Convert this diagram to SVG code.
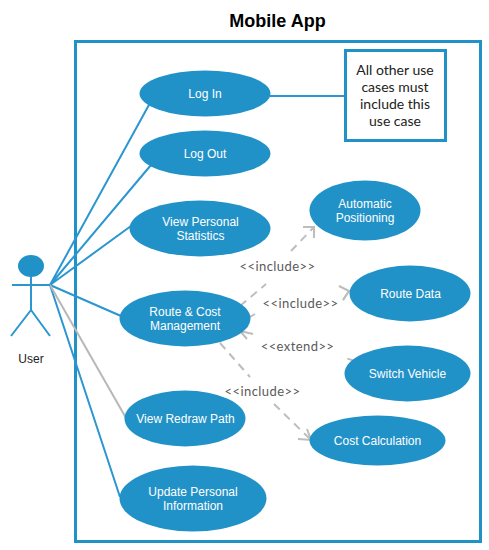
<svg xmlns="http://www.w3.org/2000/svg" width="489" height="550" viewBox="0 0 489 550">
<style>
text{font-family:"Liberation Sans",Arial,sans-serif;text-anchor:middle}
.u ellipse{fill:#2192c8}
.u text{font-size:12px;fill:#fff}
.a{fill:none;stroke:#2b96d1;stroke-width:2}
.g{fill:none;stroke:#b8b8b8;stroke-width:2}
.d{fill:none;stroke:#bdbdbd;stroke-width:2;stroke-dasharray:8 6}
.h{fill:none;stroke:#bdbdbd;stroke-width:2}
.l{font-family:"Lato","Open Sans",sans-serif;font-size:13px;fill:#5a5a5a;letter-spacing:.42px}
.n{font-family:"Lato","Open Sans",sans-serif;font-size:14px;fill:#222}
</style>
<rect x="0" y="0" width="489" height="550" fill="#fff"/>
<text x="277.500" y="27" style="font-size:18px;font-weight:bold" fill="#000">Mobile App</text>
<rect id="system" x="75.500" y="41.500" width="405" height="500" fill="none" stroke="#2192c8" stroke-width="3"/>
<g id="connectors">
<path class="a" d="M50 285L150 103M50 285L151 165M50 285L131 226M50 285L121 316M50 285L120 497"/>
<path class="g" d="M50 285L126 418"/>
<path class="a" d="M270 96H345"/>
<path class="d" d="M240 306L266 284"/><path class="d" d="M291 251L314 227"/>
<path class="h" d="M303 227L314 227L314 238"/>
<path class="h" d="M250 317L255 314"/><path class="h" d="M343 300L349 291"/>
<path class="h" d="M339 286L349 291L343 300"/>
<path class="d" d="M355 361L342 357"/>
<path class="h" d="M248 326L240 331L247 339M240 331L253 334"/>
<path class="d" d="M220 343L250 377"/><path class="d" d="M274 404L311 440"/>
<path class="h" d="M298 439L311 440L307 429"/>
</g>
<g id="user">
<ellipse cx="31" cy="266" rx="13" ry="11" fill="#2192c8"/>
<path class="a" d="M31 277V310M12 285H50M31 310L11 336M31 310L50 336"/>
<text x="31" y="363" style="font-size:12px" fill="#222">User</text>
</g>
<g id="login" class="u"><ellipse cx="205" cy="93.500" rx="65.500" ry="23"/><text x="205" y="98">Log In</text></g>
<g id="logout" class="u"><ellipse cx="205" cy="153.500" rx="65.500" ry="23"/><text x="205" y="158">Log Out</text></g>
<g id="stats" class="u"><ellipse cx="200" cy="228.500" rx="70.500" ry="28"/><text x="200.500" y="226">View Personal</text><text x="200.500" y="240">Statistics</text></g>
<g id="route" class="u"><ellipse cx="185" cy="318.500" rx="65.500" ry="28"/><text x="185" y="316">Route &amp; Cost</text><text x="185" y="330">Management</text></g>
<g id="redraw" class="u"><ellipse cx="185" cy="418.500" rx="60.500" ry="28"/><text x="185.500" y="423">View Redraw Path</text></g>
<g id="update" class="u"><ellipse cx="193" cy="498.500" rx="73.500" ry="33"/><text x="193" y="496">Update Personal</text><text x="193" y="510">Information</text></g>
<g id="auto" class="u"><ellipse cx="365" cy="210.500" rx="55.500" ry="30"/><text x="365" y="208">Automatic</text><text x="365" y="222">Positioning</text></g>
<g id="routedata" class="u"><ellipse cx="410" cy="293.500" rx="60.500" ry="28"/><text x="410.500" y="298">Route Data</text></g>
<g id="switch" class="u"><ellipse cx="407.500" cy="373.500" rx="63" ry="28"/><text x="407.500" y="378">Switch Vehicle</text></g>
<g id="cost" class="u"><ellipse cx="377.500" cy="440.500" rx="68" ry="25"/><text x="377.500" y="445">Cost Calculation</text></g>
<g id="note">
<rect x="345.500" y="50.500" width="100" height="90" fill="#fff" stroke="#2192c8" stroke-width="3"/>
<text class="n" x="395" y="75">All other use</text>
<text class="n" x="395" y="92">cases must</text>
<text class="n" x="395" y="109">include this</text>
<text class="n" x="395" y="126">use case</text>
</g>
<g id="labels">
<text class="l" x="277.500" y="271">&lt;&lt;include&gt;&gt;</text>
<text class="l" x="300.500" y="308">&lt;&lt;include&gt;&gt;</text>
<text class="l" x="297.500" y="351">&lt;&lt;extend&gt;&gt;</text>
<text class="l" x="262.500" y="396">&lt;&lt;include&gt;&gt;</text>
</g>
</svg>
